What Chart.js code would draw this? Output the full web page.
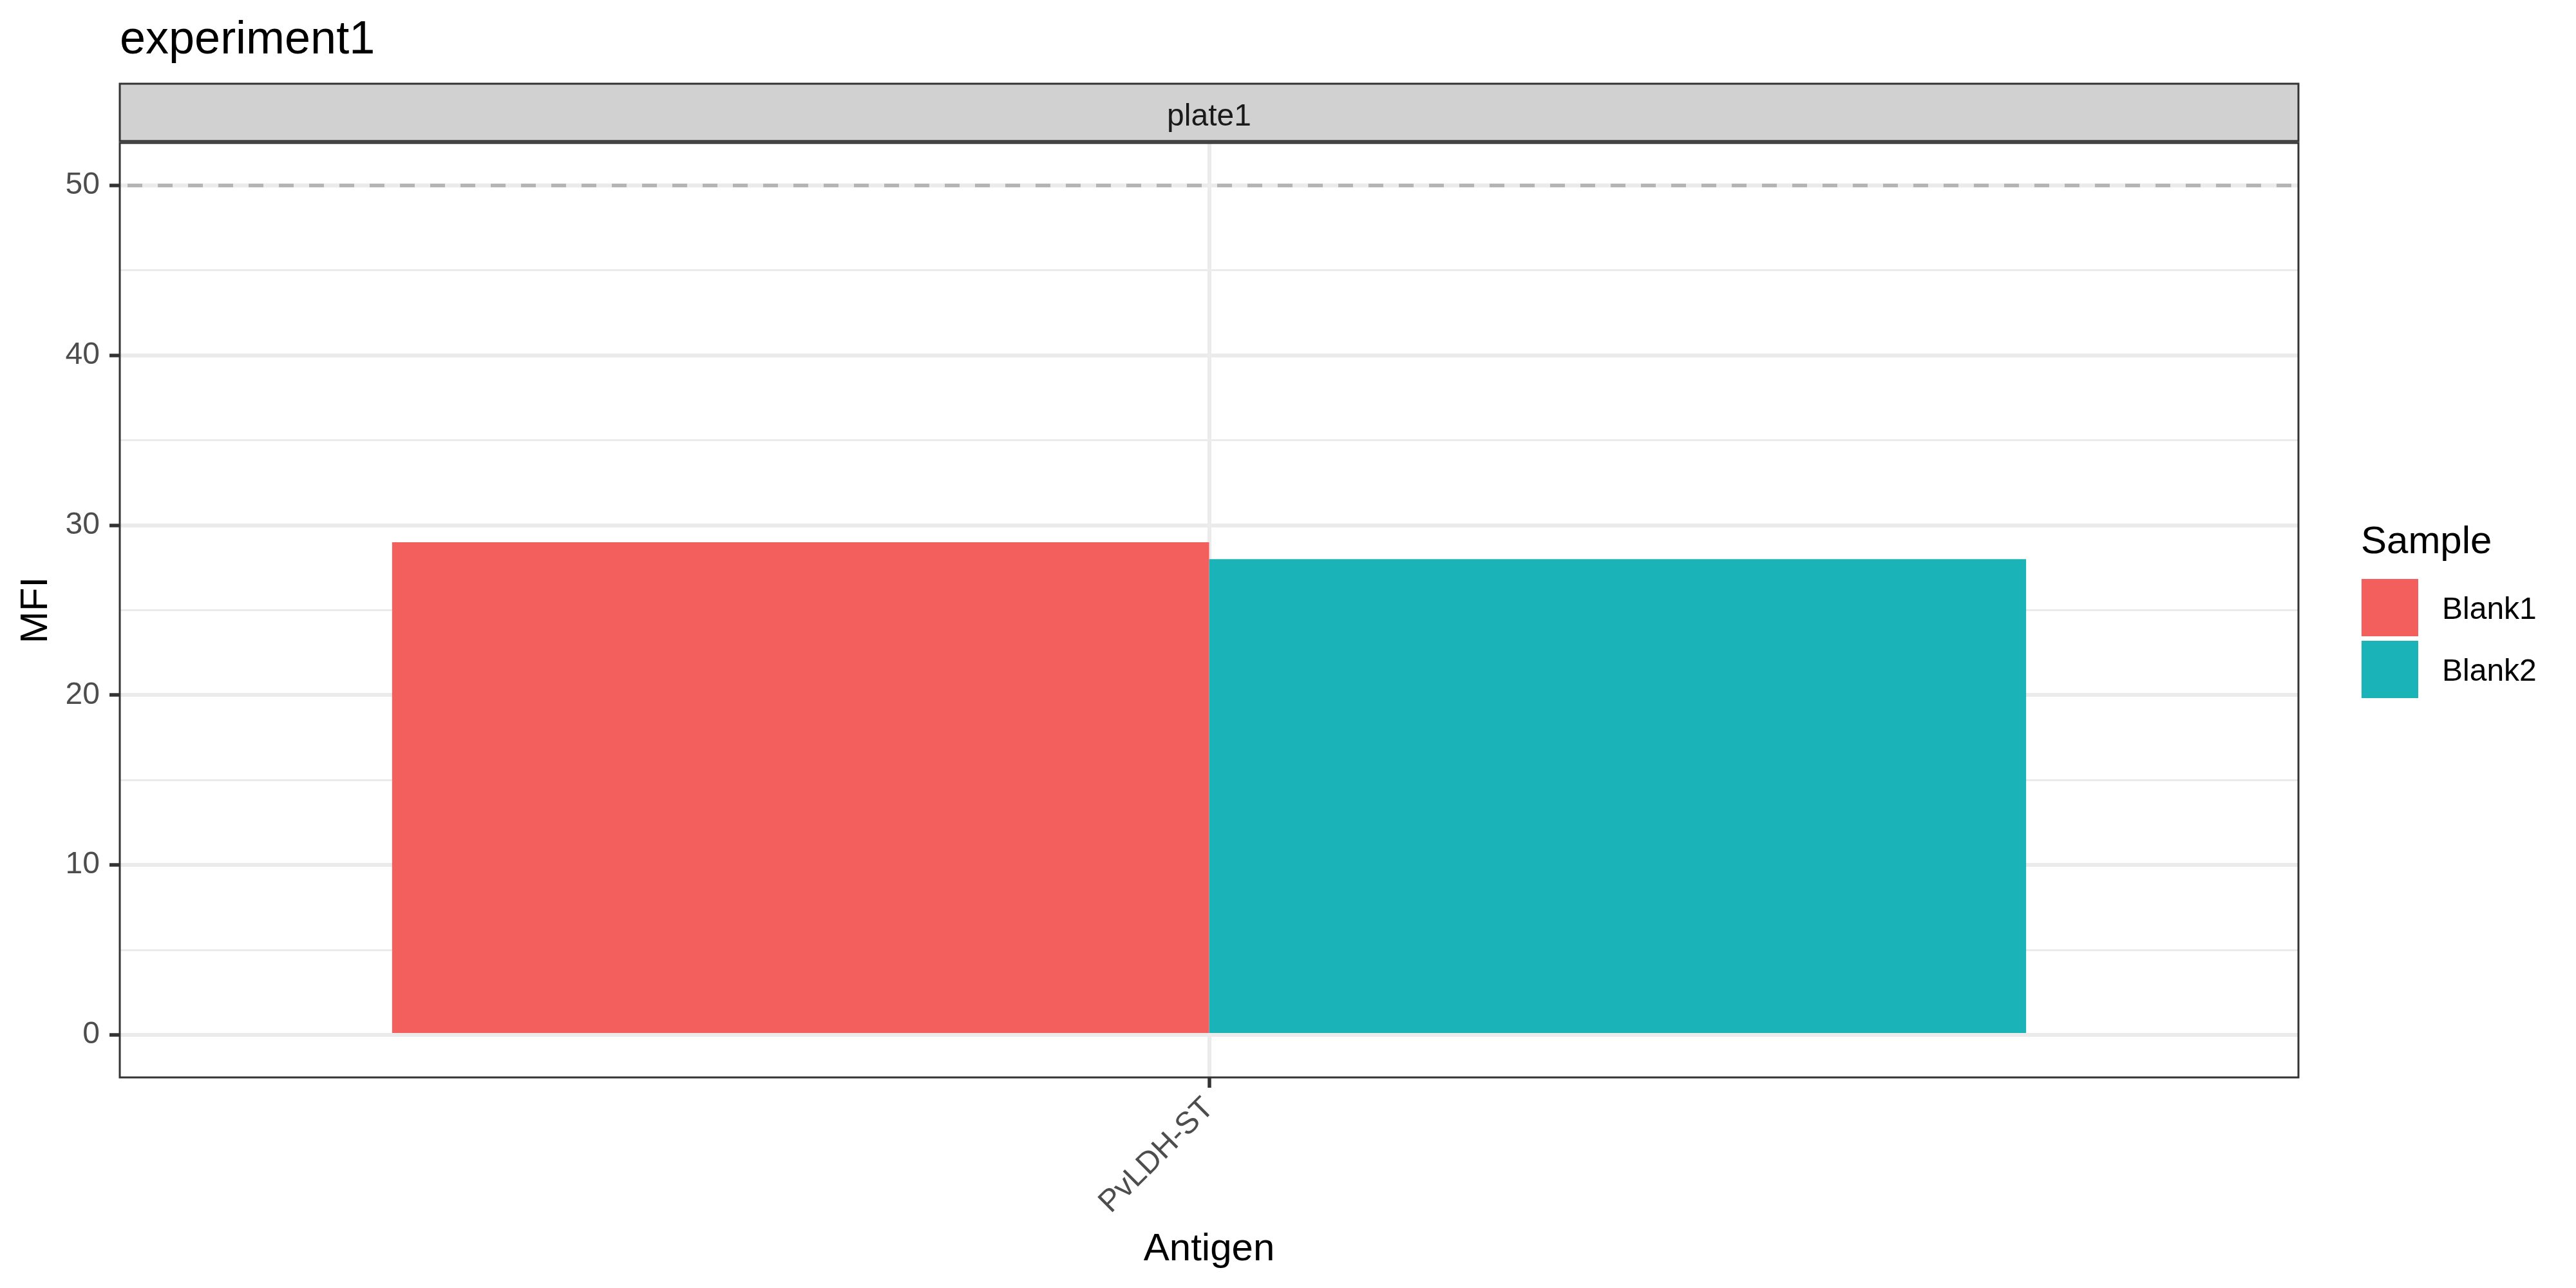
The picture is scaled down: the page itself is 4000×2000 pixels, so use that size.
<!DOCTYPE html>
<html>
<head>
<meta charset="utf-8">
<title>experiment1</title>
<script src="https://cdn.jsdelivr.net/npm/chart.js@4.4.1/dist/chart.umd.min.js"></script>
<style>
	html, body { margin: 0; padding: 0; background: #ffffff; }
	#wrap { width: 4000px; height: 2000px; }
</style>
</head>
<body>
<div id="wrap"><canvas id="chart" width="4000" height="2000"></canvas></div>
<script>
// values
const antigens = ["PvLDH-ST"];
const samples = ["Blank1", "Blank2"];
const blank1_mfi = [29];
const blank2_mfi = [28];
const sample_colors = ["#F25F5C", "#1AB3B8"];
const major_ticks = [0, 10, 20, 30, 40, 50];
const minor_ticks = [5, 15, 25, 35, 45];
const mfi_threshold = 50;

const plot_title = "experiment1";
const facet_label = "plate1";
const x_title = "Antigen";
const y_title = "MFI";
const legend_title = "Sample";

const FONT = '"Liberation Sans", Arial, Helvetica, sans-serif';
const GRID = "#EBEBEB";
const DARK = "#333333";

function is_major(v) {
	return major_ticks.indexOf(v) !== -1;
}

// strip, titles, threshold line, panel border and legend - ggplot look
const gg_decor = {
	id: "gg_decor",
	beforeDatasetsDraw: function (chart) {
		const ctx = chart.ctx;
		const area = chart.chartArea;
		const y = chart.scales.y.getPixelForValue(mfi_threshold);
		ctx.save();
		ctx.strokeStyle = "#B3B3B3";
		ctx.lineWidth = 5.5;
		ctx.setLineDash([23, 24]);
		ctx.lineDashOffset = 35;
		ctx.beginPath();
		ctx.moveTo(area.left, y);
		ctx.lineTo(area.right, y);
		ctx.stroke();
		ctx.restore();
	},
	afterDraw: function (chart) {
		const ctx = chart.ctx;
		const area = chart.chartArea;
		const mid_x = (area.left + area.right) / 2;
		const mid_y = (area.top + area.bottom) / 2;
		ctx.save();

		// panel border
		ctx.strokeStyle = DARK;
		ctx.lineWidth = 3;
		ctx.strokeRect(area.left, area.top, area.right - area.left, area.bottom - area.top);

		// facet strip
		ctx.fillStyle = "#D1D1D1";
		ctx.fillRect(area.left, 130, area.right - area.left, 89);
		ctx.strokeRect(area.left, 130, area.right - area.left, 89);
		ctx.fillStyle = "#1A1A1A";
		ctx.font = "48px " + FONT;
		ctx.textAlign = "center";
		ctx.textBaseline = "alphabetic";
		ctx.fillText(facet_label, mid_x, 195);

		// plot title
		ctx.fillStyle = "#000000";
		ctx.font = "72px " + FONT;
		ctx.textAlign = "left";
		ctx.fillText(plot_title, area.left, 83);

		// axis titles
		ctx.font = "60px " + FONT;
		ctx.textAlign = "center";
		ctx.fillText(x_title, mid_x, 1957);
		ctx.save();
		ctx.translate(73, mid_y);
		ctx.rotate(-Math.PI / 2);
		ctx.fillText(y_title, 0, 0);
		ctx.restore();

		// legend
		ctx.textAlign = "left";
		ctx.fillText(legend_title, 3666, 859);
		ctx.font = "48px " + FONT;
		chart.data.datasets.forEach(function (ds, i) {
			const top = 899 + i * 96;
			ctx.fillStyle = ds.backgroundColor;
			ctx.fillRect(3667, top, 88, 89);
			ctx.fillStyle = "#000000";
			ctx.fillText(ds.label, 3792, top + 62);
		});
		ctx.restore();
	}
};

new Chart(document.getElementById("chart"), {
	type: "bar",
	data: {
		labels: antigens,
		datasets: [
			{ label: samples[0], data: blank1_mfi, backgroundColor: sample_colors[0] },
			{ label: samples[1], data: blank2_mfi, backgroundColor: sample_colors[1] }
		]
	},
	options: {
		responsive: false,
		animation: false,
		events: [],
		layout: { padding: { top: 222, right: 431, bottom: 0, left: 0 } },
		datasets: {
			bar: { categoryPercentage: 0.75, barPercentage: 1.0, borderWidth: 0 }
		},
		plugins: {
			legend: { display: false },
			title: { display: false },
			tooltip: { enabled: false }
		},
		scales: {
			x: {
				type: "category",
				offset: true,
				border: { display: false },
				grid: {
					offset: false,
					color: GRID,
					lineWidth: 6,
					tickColor: DARK,
					tickLength: 16,
					tickWidth: 5.5
				},
				ticks: {
					autoSkip: false,
					minRotation: 45,
					maxRotation: 45,
					padding: 4,
					color: "#4D4D4D",
					font: { family: FONT, size: 48 }
				},
				afterFit: function (scale) { scale.height = 327; }
			},
			y: {
				min: -2.5,
				max: 52.5,
				border: { display: false },
				grid: {
					color: GRID,
					lineWidth: function (c) { return is_major(c.tick.value) ? 6 : 3; },
					tickColor: function (c) { return is_major(c.tick.value) ? DARK : "rgba(0,0,0,0)"; },
					tickLength: 16,
					tickWidth: 5.5
				},
				ticks: {
					padding: 15,
					color: "#4D4D4D",
					font: { family: FONT, size: 48 },
					callback: function (v) { return is_major(v) ? String(v) : ""; }
				},
				afterBuildTicks: function (scale) {
					scale.ticks = major_ticks.concat(minor_ticks)
						.sort(function (a, b) { return a - b; })
						.map(function (v) { return { value: v }; });
				},
				afterFit: function (scale) { scale.width = 186; }
			}
		}
	},
	plugins: [gg_decor]
});
</script>
</body>
</html>
